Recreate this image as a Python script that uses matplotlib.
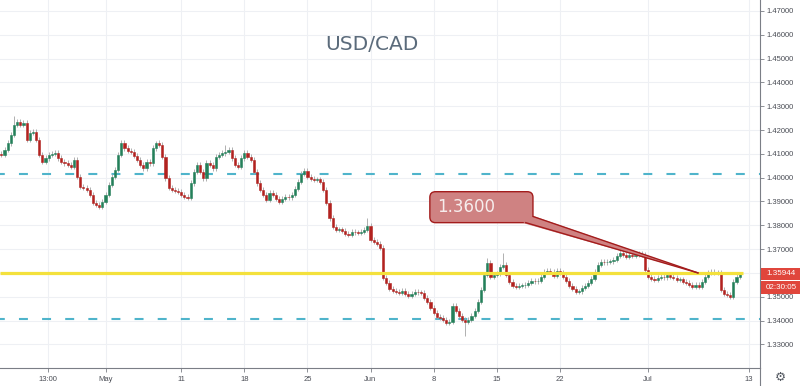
import matplotlib
matplotlib.use("Agg")
import matplotlib.pyplot as plt
from matplotlib.patches import FancyBboxPatch, Polygon, Rectangle
from matplotlib.lines import Line2D
import numpy as np

plt.rcParams["font.family"] = ["DejaVu Sans"]

"""
__Data__
"""
title = "USD/CAD"

# 6h candles, x measured in trading days from 1 May
candles_per_day = 4
first_slot = -8.25
first_open = 1.4100

closes = [
    1.4096, 1.4117, 1.4146, 1.4180, 1.4222, 1.4235, 1.4222, 1.4231, 1.4159, 1.4189,
    1.4193, 1.4159, 1.4096, 1.4067, 1.4083, 1.4096, 1.4100, 1.4104, 1.4083, 1.4067,
    1.4062, 1.4054, 1.4046, 1.4075, 1.4004, 1.3962, 1.3958, 1.3949, 1.3928, 1.3895,
    1.3886, 1.3878, 1.3899, 1.3928, 1.3970, 1.4004, 1.4033, 1.4096, 1.4146, 1.4125,
    1.4113, 1.4109, 1.4092, 1.4075, 1.4054, 1.4041, 1.4067, 1.4062, 1.4125, 1.4146,
    1.4138, 1.4088, 1.3999, 1.3958, 1.3949, 1.3945, 1.3941, 1.3928, 1.3920, 1.3916,
    1.3978, 1.4025, 1.4054, 1.4025, 1.3999, 1.4062, 1.4054, 1.4041, 1.4088, 1.4096,
    1.4104, 1.4109, 1.4117, 1.4083, 1.4054, 1.4046, 1.4083, 1.4104, 1.4088, 1.4075,
    1.4025, 1.3978, 1.3949, 1.3928, 1.3907, 1.3937, 1.3928, 1.3911, 1.3899, 1.3911,
    1.3920, 1.3918, 1.3928, 1.3953, 1.3983, 1.4016, 1.4029, 1.4004, 1.3995, 1.3991,
    1.3993, 1.3983, 1.3949, 1.3895, 1.3831, 1.3794, 1.3781, 1.3783, 1.3777, 1.3764,
    1.3760, 1.3773, 1.3771, 1.3769, 1.3773, 1.3781, 1.3798, 1.3739, 1.3731, 1.3722,
    1.3706, 1.3580, 1.3559, 1.3534, 1.3525, 1.3521, 1.3517, 1.3525, 1.3513, 1.3504,
    1.3513, 1.3521, 1.3519, 1.3517, 1.3496, 1.3479, 1.3454, 1.3433, 1.3416, 1.3412,
    1.3403, 1.3391, 1.3395, 1.3462, 1.3441, 1.3420, 1.3403, 1.3395, 1.3403, 1.3420,
    1.3441, 1.3479, 1.3529, 1.3592, 1.3643, 1.3584, 1.3592, 1.3597, 1.3626, 1.3634,
    1.3592, 1.3563, 1.3546, 1.3542, 1.3546, 1.3548, 1.3550, 1.3559, 1.3567, 1.3565,
    1.3567, 1.3584, 1.3605, 1.3609, 1.3605, 1.3588, 1.3609, 1.3601, 1.3584, 1.3567,
    1.3546, 1.3534, 1.3521, 1.3523, 1.3538, 1.3546, 1.3559, 1.3576, 1.3605, 1.3634,
    1.3647, 1.3645, 1.3647, 1.3649, 1.3655, 1.3672, 1.3685, 1.3676, 1.3668, 1.3676,
    1.3672, 1.3676, 1.3681, 1.3676, 1.3613, 1.3584, 1.3576, 1.3571, 1.3580, 1.3584,
    1.3582, 1.3592, 1.3584, 1.3580, 1.3571, 1.3573, 1.3563, 1.3559, 1.3550, 1.3542,
    1.3550, 1.3542, 1.3563, 1.3584, 1.3601, 1.3605, 1.3603, 1.3601, 1.3529, 1.3513,
    1.3508, 1.3500, 1.3563, 1.3584, 1.3594,
]

# wicks that stick out further than usual
spike_highs = {4: 1.4258, 49: 1.4155, 71: 1.4138, 96: 1.4041, 116: 1.3831,
               154: 1.3664, 159: 1.3685}
spike_lows = {147: 1.3334}

support_level = 1.3600
upper_band = 1.4015
lower_band = 1.3405

callout_text = "1.3600"
last_price_text = "1.35944"
countdown_text = "02:30:05"

xtick_pos = [-4.55, 0, 6, 11, 16, 21, 26, 31, 36, 43, 51]
xtick_labels = ["13:00", "May", "11", "18", "25", "Jun", "8", "15", "22", "Jul", "13"]
price_ticks = [1.33, 1.34, 1.35, 1.36, 1.37, 1.38, 1.39, 1.40,
               1.41, 1.42, 1.43, 1.44, 1.45, 1.46, 1.47]

"""
__Styles__
"""
up_color = "#24805a"
down_color = "#b2221f"
wick_color = "#a3a3a3"
grid_color = "#eef0f4"
axis_color = "#7b7e86"
label_color = "#4a4d55"
band_color = "#4fb4cb"
support_color = "#f4e13c"
wick_pad = 0.0011

"""
__Figure__
"""
fig = plt.figure(figsize=(8.0, 3.86), dpi=100)
ax = fig.add_axes([0.0, 18 / 386, 760 / 800, 368 / 386])

n = len(closes)
t = first_slot + np.arange(n) / candles_per_day
c = np.array(closes)
o = np.concatenate([[first_open], c[:-1]])
hi = np.maximum(o, c) + wick_pad
lo = np.minimum(o, c) - wick_pad
for k, v in spike_highs.items():
    hi[k] = v
for k, v in spike_lows.items():
    lo[k] = v

colors = np.where(c >= o, up_color, down_color)

ax.vlines(t, lo, hi, color=wick_color, linewidth=0.6, zorder=3)
ax.bar(t, c - o, bottom=o, width=0.17, color=colors, edgecolor=colors,
       linewidth=0.4, zorder=4)

# levels
ax.axhline(upper_band, color=band_color, linewidth=1.5, linestyle=(2, (4.3, 6.8)), zorder=2)
ax.axhline(lower_band, color=band_color, linewidth=1.5, linestyle=(2, (4.3, 6.8)), zorder=2)
ax.plot([-8.36, t[-1] + 0.25], [support_level, support_level], color=support_color,
        linewidth=2.3, solid_capstyle="butt", zorder=5)

# callout with a narrow tail pointing at the support line
box_x0, box_x1 = 25.7, 33.87
box_y0, box_y1 = 1.3811, 1.3941
tip = (46.94, support_level)
callout_fill = "#cf8282"
callout_edge = "#a31c1c"
aspect = 0.0004196 / 0.07924
ax.add_patch(FancyBboxPatch((box_x0, box_y0), box_x1 - box_x0, box_y1 - box_y0,
                            boxstyle="round,pad=0,rounding_size=0.45",
                            mutation_aspect=aspect, facecolor=callout_fill,
                            edgecolor=callout_edge, linewidth=1.0, zorder=6))
tail = [(33.0, 1.3818), (33.3, 1.3806), tip, (33.95, 1.3838), (33.6, 1.3842)]
ax.add_patch(Polygon(tail, closed=True, facecolor=callout_fill, edgecolor="none", zorder=7))
ax.add_line(Line2D([33.3, tip[0]], [1.3811, tip[1]], color=callout_edge, linewidth=1.0, zorder=8))
ax.add_line(Line2D([33.87, tip[0]], [1.3837, tip[1]], color=callout_edge, linewidth=1.0, zorder=8))
ax.text(box_x0 + 0.6, (box_y0 + box_y1) / 2, callout_text, fontsize=12, color="#f6eded",
        ha="left", va="center", zorder=9)

# axes
ax.set_xlim(-8.36, 51.86)
ax.set_ylim(1.32005, 1.47462)
ax.set_xticks(xtick_pos)
ax.set_xticklabels(xtick_labels)
ax.set_yticks(price_ticks)
ax.set_yticklabels([f"{p:.5f}" for p in price_ticks])
ax.yaxis.tick_right()
ax.grid(True, color=grid_color, linewidth=0.8, zorder=0)
ax.set_axisbelow(True)
for side in ["top", "left"]:
    ax.spines[side].set_visible(False)
for side in ["right", "bottom"]:
    ax.spines[side].set_color(axis_color)
    ax.spines[side].set_linewidth(0.8)
ax.tick_params(axis="both", colors=axis_color, length=3, width=0.6,
               labelsize=5.5, labelcolor=label_color)
ax.tick_params(axis="y", pad=2)
ax.tick_params(axis="x", pad=3)
for lab in ax.get_xticklabels() + ax.get_yticklabels():
    lab.set_fontfamily("Liberation Sans")

ax.text(0.49, 0.88, title, transform=ax.transAxes, fontsize=14.5, color="#5b6b7b",
        ha="center", va="center")

# right axis line continues down to the bottom edge
fig.add_artist(Line2D([760 / 800, 760 / 800], [0, 18 / 386], transform=fig.transFigure,
                      color=axis_color, linewidth=0.8))

# last price and countdown tags
tag_color = "#e0463c"
for y_top, txt in [(267.5, last_price_text), (281.0, countdown_text)]:
    fig.add_artist(Rectangle((761 / 800, (386 - y_top - 12.5) / 386), 39 / 800, 12.5 / 386,
                             transform=fig.transFigure, facecolor=tag_color,
                             edgecolor="none"))
    fig.text(781 / 800, (386 - y_top - 6.25) / 386, txt, fontsize=5.8, color="white",
             ha="center", va="center", family="Liberation Sans")

fig.text(780 / 800, 9 / 386, "\u2699", fontsize=9, color="#555a62", ha="center", va="center")

plt.savefig("out.png", dpi=100)
